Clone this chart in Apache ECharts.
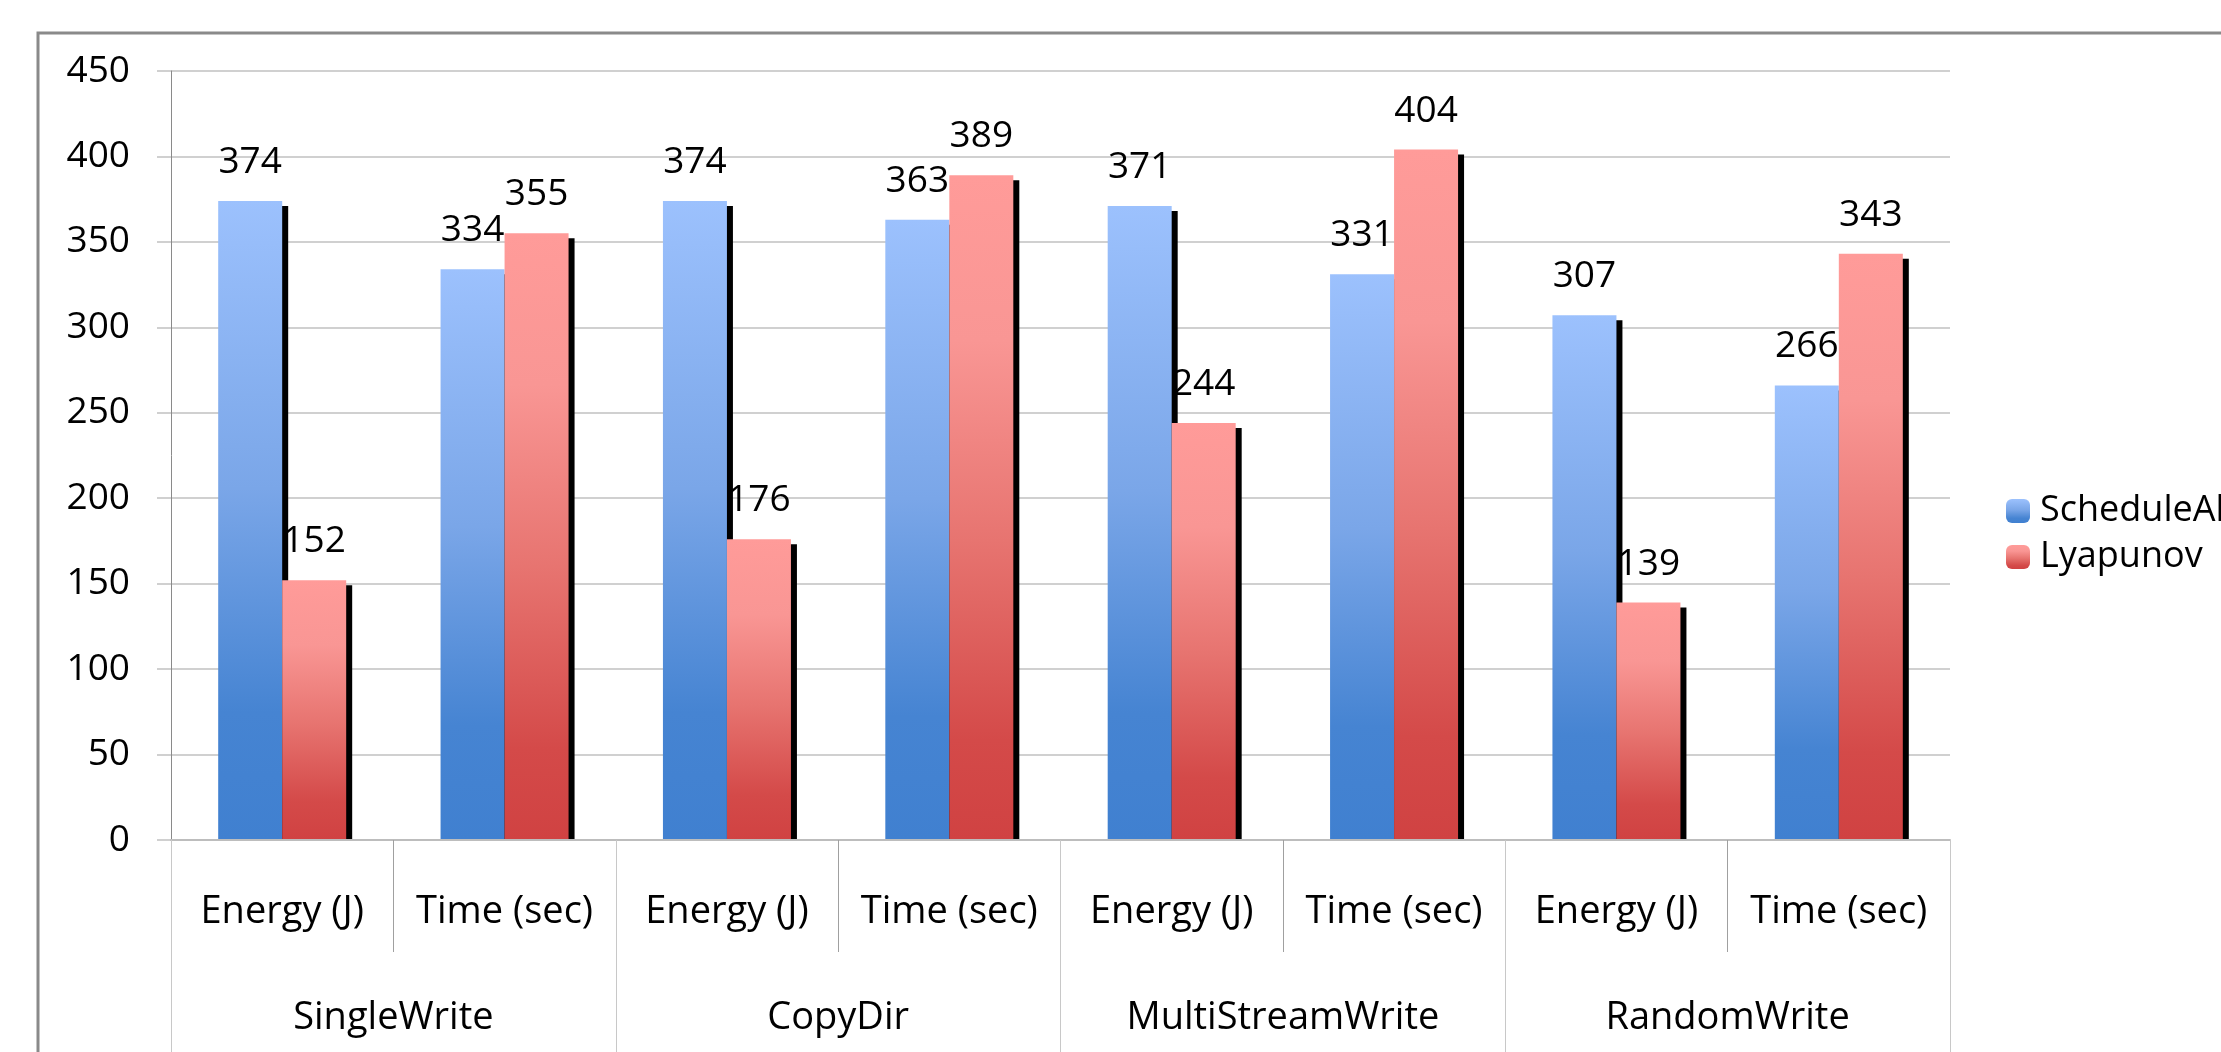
<!DOCTYPE html>
<html>
<head>
<meta charset="utf-8">
<script src="https://cdn.jsdelivr.net/npm/echarts@6/dist/echarts.min.js"></script>
<style>
  html, body { margin: 0; padding: 0; background: #fff; }
  #chart { width: 2221px; height: 1052px; }
</style>
</head>
<body>
<div id="chart"></div>
<script>
// metric labels (first row) and workload groups (second row)
var metrics = ['Energy (J)', 'Time (sec)', 'Energy (J)', 'Time (sec)', 'Energy (J)', 'Time (sec)', 'Energy (J)', 'Time (sec)'];
var groups = ['SingleWrite', 'CopyDir', 'MultiStreamWrite', 'RandomWrite'];

var scheduleAll = [374, 334, 374, 363, 371, 331, 307, 266];
var lyapunov = [152, 355, 176, 389, 244, 404, 139, 343];

var seriesNames = ['ScheduleAll', 'Lyapunov'];

var FONT = '"Open Sans", "Noto Sans", sans-serif';

function grad(stops) {
    return new echarts.graphic.LinearGradient(0, 0, 0, 1, stops);
}

var blueFill = grad([
    { offset: 0, color: '#9cc1fd' },
    { offset: 0.45, color: '#7aa6e8' },
    { offset: 0.8, color: '#4684d2' },
    { offset: 1, color: '#4080d0' }
]);
var redFill = grad([
    { offset: 0, color: '#ff9b99' },
    { offset: 0.25, color: '#f99694' },
    { offset: 0.55, color: '#e77470' },
    { offset: 0.85, color: '#d44a49' },
    { offset: 1, color: '#d04242' }
]);

function makeSeries(name, values, fill) {
    return {
        name: name,
        type: 'bar',
        data: values,
        barWidth: 64,
        barGap: '0%',
        itemStyle: {
            color: fill,
            shadowColor: '#000',
            shadowBlur: 0,
            shadowOffsetX: 6,
            shadowOffsetY: 5
        },
        label: {
            show: true,
            position: 'top',
            distance: 20,
            fontSize: 37,
            fontFamily: FONT,
            color: '#000'
        }
    };
}

var chart = echarts.init(document.getElementById('chart'));

var option = {
    backgroundColor: '#fff',
    animation: false,
    grid: { left: 171, right: 271, top: 71, bottom: 212, containLabel: false },
    legend: {
        orient: 'vertical',
        left: 2001,
        top: 488,
        itemWidth: 24,
        itemHeight: 24,
        itemGap: 10,
        data: seriesNames,
        itemStyle: { shadowColor: 'transparent', shadowOffsetX: 0, shadowOffsetY: 0 },
        textStyle: { fontSize: 36, fontFamily: FONT, color: '#000', lineHeight: 36, padding: [0, 0, 0, 5] }
    },
    xAxis: [
        {
            type: 'category',
            data: metrics,
            position: 'bottom',
            z: 10,
            axisLine: { lineStyle: { color: '#bdbdbd', width: 2 } },
            axisTick: { show: true, interval: 0, length: 112, lineStyle: { color: '#a0a0a0', width: 1 } },
            axisLabel: { interval: 0, margin: 52, fontSize: 38, fontFamily: FONT, color: '#000', lineHeight: 40 }
        },
        {
            type: 'category',
            data: groups,
            position: 'bottom',
            z: 10,
            axisLine: { show: false },
            axisTick: { show: true, interval: 0, length: 215, lineStyle: { color: '#c8c8c8', width: 1 } },
            axisLabel: { interval: 0, margin: 158, fontSize: 38, fontFamily: FONT, color: '#000', lineHeight: 40 }
        }
    ],
    yAxis: {
        type: 'value',
        min: 0,
        max: 450,
        interval: 50,
        axisLine: { show: true, lineStyle: { color: '#8a8a8a', width: 1 } },
        axisTick: { show: true, length: 14, lineStyle: { color: '#d0d0d0', width: 2 } },
        splitLine: { lineStyle: { color: '#d0d0d0', width: 2 } },
        axisLabel: { margin: 41, fontSize: 37, fontFamily: FONT, color: '#000' }
    },
    graphic: [
        // outer chart frame (runs off the right and bottom edge)
        {
            type: 'rect',
            z: 0,
            shape: { x: 38, y: 33, width: 2400, height: 1200 },
            style: { fill: 'none', stroke: '#8a8a8a', lineWidth: 3 }
        },
        // hide the part of the bar shadows that drops below the baseline
        {
            type: 'rect',
            z: 5,
            shape: { x: 175, y: 841, width: 1780, height: 7 },
            style: { fill: '#fff' }
        }
    ],
    series: [
        makeSeries(seriesNames[0], scheduleAll, blueFill),
        makeSeries(seriesNames[1], lyapunov, redFill)
    ]
};

chart.setOption(option);
</script>
</body>
</html>
